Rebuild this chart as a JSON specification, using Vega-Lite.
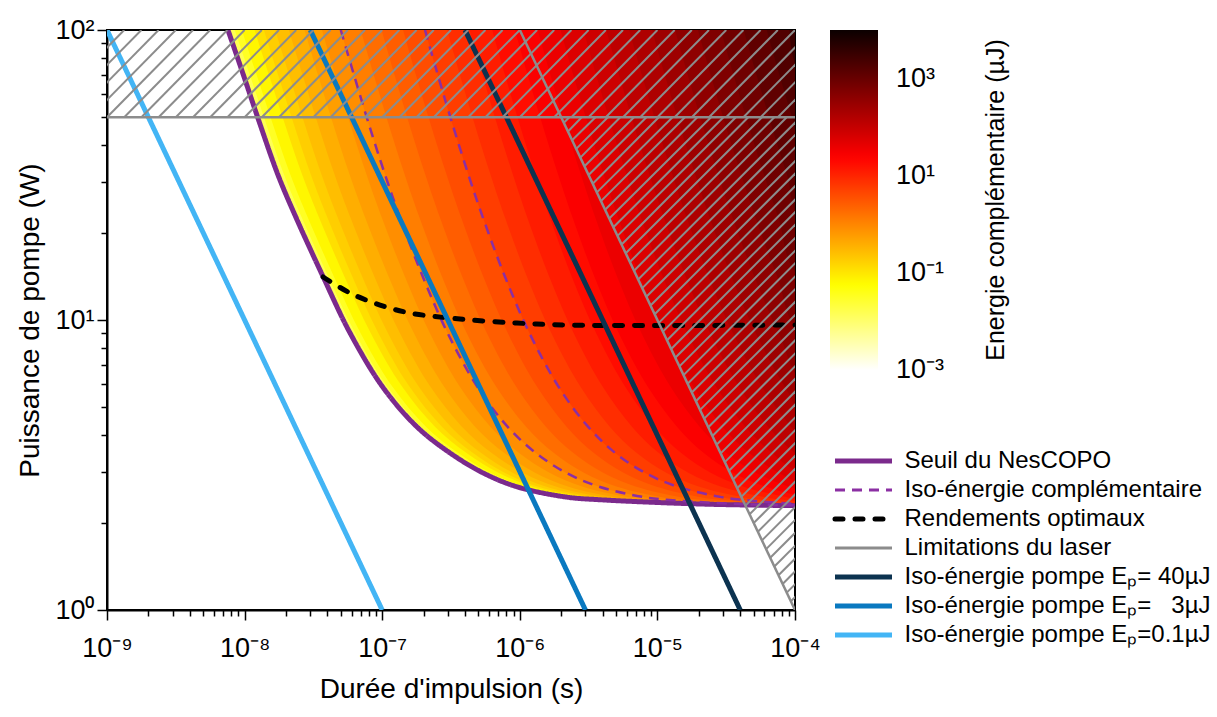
{
"$schema":"https://vega.github.io/schema/vega-lite/v6.json",
"width":688,"height":580,
"autosize":{"type":"none"},
"padding":{"left":107,"top":30,"right":422,"bottom":107},
"background":"white",
"config":{
 "font":"Liberation Sans",
 "view":{"stroke":"black","strokeWidth":2},
 "axis":{"grid":false,"domainColor":"black","domainWidth":2,"tickColor":"black","tickWidth":1.5,"labelColor":"black","titleColor":"black","labelFont":"Liberation Sans","titleFont":"Liberation Sans","titleFontWeight":"normal"},
 "legend":{"labelFont":"Liberation Sans","titleFont":"Liberation Sans","labelColor":"black","titleColor":"black","padding":0}
},
"datasets":{
"heat":[
{"lev":0,"E":0.015,"i":0,"t":7.57e-9,"P":100},{"lev":0,"E":0.015,"i":1,"t":9.8e-9,"P":70},{"lev":0,"E":0.015,"i":2,"t":1.27e-8,"P":48.6},{"lev":0,"E":0.015,"i":3,"t":1.75e-8,"P":31.6},{"lev":0,"E":0.015,"i":4,"t":2.36e-8,"P":22.6},{"lev":0,"E":0.015,"i":5,"t":3.72e-8,"P":14.1},{"lev":0,"E":0.015,"i":6,"t":5.84e-8,"P":9.02},{"lev":0,"E":0.015,"i":7,"t":1.01e-7,"P":5.87},{"lev":0,"E":0.015,"i":8,"t":1.79e-7,"P":4.28},{"lev":0,"E":0.015,"i":9,"t":3.11e-7,"P":3.48},{"lev":0,"E":0.015,"i":10,"t":5.41e-7,"P":2.97},{"lev":0,"E":0.015,"i":11,"t":9.55e-7,"P":2.66},{"lev":0,"E":0.015,"i":12,"t":2.2e-6,"P":2.45},{"lev":0,"E":0.015,"i":13,"t":3.83e-6,"P":2.4},{"lev":0,"E":0.015,"i":14,"t":2.04e-5,"P":2.32},{"lev":0,"E":0.015,"i":15,"t":1e-4,"P":2.29},{"lev":0,"E":0.015,"i":16,"t":1e-3,"P":2.29},{"lev":0,"E":0.015,"i":17,"t":1e-3,"P":100},
{"lev":1,"E":0.0316,"i":0,"t":8.48e-9,"P":100},{"lev":1,"E":0.0316,"i":1,"t":1.093e-8,"P":70},{"lev":1,"E":0.0316,"i":2,"t":1.412e-8,"P":48.6},{"lev":1,"E":0.0316,"i":3,"t":1.938e-8,"P":31.6},{"lev":1,"E":0.0316,"i":4,"t":2.598e-8,"P":22.6},{"lev":1,"E":0.0316,"i":5,"t":4.064e-8,"P":14.1},{"lev":1,"E":0.0316,"i":6,"t":6.357e-8,"P":9.02},{"lev":1,"E":0.0316,"i":7,"t":1.094e-7,"P":5.87},{"lev":1,"E":0.0316,"i":8,"t":1.927e-7,"P":4.28},{"lev":1,"E":0.0316,"i":9,"t":3.324e-7,"P":3.48},{"lev":1,"E":0.0316,"i":10,"t":5.762e-7,"P":2.97},{"lev":1,"E":0.0316,"i":11,"t":1.016e-6,"P":2.66},{"lev":1,"E":0.0316,"i":12,"t":2.325e-6,"P":2.45},{"lev":1,"E":0.0316,"i":13,"t":4.0e-6,"P":2.4},{"lev":1,"E":0.0316,"i":14,"t":2.079e-5,"P":2.32},{"lev":1,"E":0.0316,"i":15,"t":1.008e-4,"P":2.29},{"lev":1,"E":0.0316,"i":16,"t":1e-3,"P":2.29},{"lev":1,"E":0.0316,"i":17,"t":1e-3,"P":100},
{"lev":2,"E":0.0681,"i":0,"t":9.54e-9,"P":100},{"lev":2,"E":0.0681,"i":1,"t":1.224e-8,"P":70},{"lev":2,"E":0.0681,"i":2,"t":1.576e-8,"P":48.6},{"lev":2,"E":0.0681,"i":3,"t":2.156e-8,"P":31.6},{"lev":2,"E":0.0681,"i":4,"t":2.875e-8,"P":22.6},{"lev":2,"E":0.0681,"i":5,"t":4.463e-8,"P":14.1},{"lev":2,"E":0.0681,"i":6,"t":6.955e-8,"P":9.02},{"lev":2,"E":0.0681,"i":7,"t":1.192e-7,"P":5.87},{"lev":2,"E":0.0681,"i":8,"t":2.086e-7,"P":4.28},{"lev":2,"E":0.0681,"i":9,"t":3.572e-7,"P":3.48},{"lev":2,"E":0.0681,"i":10,"t":6.17e-7,"P":2.97},{"lev":2,"E":0.0681,"i":11,"t":1.086e-6,"P":2.66},{"lev":2,"E":0.0681,"i":12,"t":2.47e-6,"P":2.45},{"lev":2,"E":0.0681,"i":13,"t":4.195e-6,"P":2.4},{"lev":2,"E":0.0681,"i":14,"t":2.124e-5,"P":2.32},{"lev":2,"E":0.0681,"i":15,"t":1.017e-4,"P":2.29},{"lev":2,"E":0.0681,"i":16,"t":1e-3,"P":2.29},{"lev":2,"E":0.0681,"i":17,"t":1e-3,"P":100},
{"lev":3,"E":0.121,"i":0,"t":1.181e-8,"P":100},{"lev":3,"E":0.121,"i":1,"t":1.505e-8,"P":70},{"lev":3,"E":0.121,"i":2,"t":1.929e-8,"P":48.6},{"lev":3,"E":0.121,"i":3,"t":2.626e-8,"P":31.6},{"lev":3,"E":0.121,"i":4,"t":3.469e-8,"P":22.6},{"lev":3,"E":0.121,"i":5,"t":5.321e-8,"P":14.1},{"lev":3,"E":0.121,"i":6,"t":8.243e-8,"P":9.02},{"lev":3,"E":0.121,"i":7,"t":1.402e-7,"P":5.87},{"lev":3,"E":0.121,"i":8,"t":2.428e-7,"P":4.28},{"lev":3,"E":0.121,"i":9,"t":4.105e-7,"P":3.48},{"lev":3,"E":0.121,"i":10,"t":7.048e-7,"P":2.97},{"lev":3,"E":0.121,"i":11,"t":1.237e-6,"P":2.66},{"lev":3,"E":0.121,"i":12,"t":2.782e-6,"P":2.45},{"lev":3,"E":0.121,"i":13,"t":4.616e-6,"P":2.4},{"lev":3,"E":0.121,"i":14,"t":2.222e-5,"P":2.32},{"lev":3,"E":0.121,"i":15,"t":1.036e-4,"P":2.29},{"lev":3,"E":0.121,"i":16,"t":1e-3,"P":2.29},{"lev":3,"E":0.121,"i":17,"t":1e-3,"P":100},
{"lev":4,"E":0.178,"i":0,"t":1.381e-8,"P":100},{"lev":4,"E":0.178,"i":1,"t":1.752e-8,"P":70},{"lev":4,"E":0.178,"i":2,"t":2.239e-8,"P":48.6},{"lev":4,"E":0.178,"i":3,"t":3.037e-8,"P":31.6},{"lev":4,"E":0.178,"i":4,"t":3.99e-8,"P":22.6},{"lev":4,"E":0.178,"i":5,"t":6.073e-8,"P":14.1},{"lev":4,"E":0.178,"i":6,"t":9.372e-8,"P":9.02},{"lev":4,"E":0.178,"i":7,"t":1.586e-7,"P":5.87},{"lev":4,"E":0.178,"i":8,"t":2.728e-7,"P":4.28},{"lev":4,"E":0.178,"i":9,"t":4.573e-7,"P":3.48},{"lev":4,"E":0.178,"i":10,"t":7.818e-7,"P":2.97},{"lev":4,"E":0.178,"i":11,"t":1.37e-6,"P":2.66},{"lev":4,"E":0.178,"i":12,"t":3.056e-6,"P":2.45},{"lev":4,"E":0.178,"i":13,"t":4.985e-6,"P":2.4},{"lev":4,"E":0.178,"i":14,"t":2.307e-5,"P":2.32},{"lev":4,"E":0.178,"i":15,"t":1.053e-4,"P":2.29},{"lev":4,"E":0.178,"i":16,"t":1e-3,"P":2.29},{"lev":4,"E":0.178,"i":17,"t":1e-3,"P":100},
{"lev":5,"E":0.261,"i":0,"t":1.669e-8,"P":100},{"lev":5,"E":0.261,"i":1,"t":2.109e-8,"P":70},{"lev":5,"E":0.261,"i":2,"t":2.687e-8,"P":48.6},{"lev":5,"E":0.261,"i":3,"t":3.632e-8,"P":31.6},{"lev":5,"E":0.261,"i":4,"t":4.744e-8,"P":22.6},{"lev":5,"E":0.261,"i":5,"t":7.162e-8,"P":14.1},{"lev":5,"E":0.261,"i":6,"t":1.1e-7,"P":9.02},{"lev":5,"E":0.261,"i":7,"t":1.852e-7,"P":5.87},{"lev":5,"E":0.261,"i":8,"t":3.161e-7,"P":4.28},{"lev":5,"E":0.261,"i":9,"t":5.249e-7,"P":3.48},{"lev":5,"E":0.261,"i":10,"t":8.932e-7,"P":2.97},{"lev":5,"E":0.261,"i":11,"t":1.562e-6,"P":2.66},{"lev":5,"E":0.261,"i":12,"t":3.451e-6,"P":2.45},{"lev":5,"E":0.261,"i":13,"t":5.52e-6,"P":2.4},{"lev":5,"E":0.261,"i":14,"t":2.431e-5,"P":2.32},{"lev":5,"E":0.261,"i":15,"t":1.078e-4,"P":2.29},{"lev":5,"E":0.261,"i":16,"t":1e-3,"P":2.29},{"lev":5,"E":0.261,"i":17,"t":1e-3,"P":100},
{"lev":6,"E":0.383,"i":0,"t":2.099e-8,"P":100},{"lev":6,"E":0.383,"i":1,"t":2.641e-8,"P":70},{"lev":6,"E":0.383,"i":2,"t":3.355e-8,"P":48.6},{"lev":6,"E":0.383,"i":3,"t":4.518e-8,"P":31.6},{"lev":6,"E":0.383,"i":4,"t":5.867e-8,"P":22.6},{"lev":6,"E":0.383,"i":5,"t":8.782e-8,"P":14.1},{"lev":6,"E":0.383,"i":6,"t":1.344e-7,"P":9.02},{"lev":6,"E":0.383,"i":7,"t":2.249e-7,"P":5.87},{"lev":6,"E":0.383,"i":8,"t":3.807e-7,"P":4.28},{"lev":6,"E":0.383,"i":9,"t":6.256e-7,"P":3.48},{"lev":6,"E":0.383,"i":10,"t":1.059e-6,"P":2.97},{"lev":6,"E":0.383,"i":11,"t":1.848e-6,"P":2.66},{"lev":6,"E":0.383,"i":12,"t":4.04e-6,"P":2.45},{"lev":6,"E":0.383,"i":13,"t":6.315e-6,"P":2.4},{"lev":6,"E":0.383,"i":14,"t":2.615e-5,"P":2.32},{"lev":6,"E":0.383,"i":15,"t":1.115e-4,"P":2.29},{"lev":6,"E":0.383,"i":16,"t":1e-3,"P":2.29},{"lev":6,"E":0.383,"i":17,"t":1e-3,"P":100},
{"lev":7,"E":0.562,"i":0,"t":2.726e-8,"P":100},{"lev":7,"E":0.562,"i":1,"t":3.417e-8,"P":70},{"lev":7,"E":0.562,"i":2,"t":4.329e-8,"P":48.6},{"lev":7,"E":0.562,"i":3,"t":5.812e-8,"P":31.6},{"lev":7,"E":0.562,"i":4,"t":7.506e-8,"P":22.6},{"lev":7,"E":0.562,"i":5,"t":1.115e-7,"P":14.1},{"lev":7,"E":0.562,"i":6,"t":1.699e-7,"P":9.02},{"lev":7,"E":0.562,"i":7,"t":2.828e-7,"P":5.87},{"lev":7,"E":0.562,"i":8,"t":4.749e-7,"P":4.28},{"lev":7,"E":0.562,"i":9,"t":7.727e-7,"P":3.48},{"lev":7,"E":0.562,"i":10,"t":1.301e-6,"P":2.97},{"lev":7,"E":0.562,"i":11,"t":2.265e-6,"P":2.66},{"lev":7,"E":0.562,"i":12,"t":4.9e-6,"P":2.45},{"lev":7,"E":0.562,"i":13,"t":7.477e-6,"P":2.4},{"lev":7,"E":0.562,"i":14,"t":2.883e-5,"P":2.32},{"lev":7,"E":0.562,"i":15,"t":1.168e-4,"P":2.29},{"lev":7,"E":0.562,"i":16,"t":1e-3,"P":2.29},{"lev":7,"E":0.562,"i":17,"t":1e-3,"P":100},
{"lev":8,"E":0.825,"i":0,"t":3.648e-8,"P":100},{"lev":8,"E":0.825,"i":1,"t":4.559e-8,"P":70},{"lev":8,"E":0.825,"i":2,"t":5.762e-8,"P":48.6},{"lev":8,"E":0.825,"i":3,"t":7.715e-8,"P":31.6},{"lev":8,"E":0.825,"i":4,"t":9.916e-8,"P":22.6},{"lev":8,"E":0.825,"i":5,"t":1.463e-7,"P":14.1},{"lev":8,"E":0.825,"i":6,"t":2.221e-7,"P":9.02},{"lev":8,"E":0.825,"i":7,"t":3.679e-7,"P":5.87},{"lev":8,"E":0.825,"i":8,"t":6.135e-7,"P":4.28},{"lev":8,"E":0.825,"i":9,"t":9.889e-7,"P":3.48},{"lev":8,"E":0.825,"i":10,"t":1.657e-6,"P":2.97},{"lev":8,"E":0.825,"i":11,"t":2.879e-6,"P":2.66},{"lev":8,"E":0.825,"i":12,"t":6.165e-6,"P":2.45},{"lev":8,"E":0.825,"i":13,"t":9.185e-6,"P":2.4},{"lev":8,"E":0.825,"i":14,"t":3.278e-5,"P":2.32},{"lev":8,"E":0.825,"i":15,"t":1.247e-4,"P":2.29},{"lev":8,"E":0.825,"i":16,"t":1e-3,"P":2.29},{"lev":8,"E":0.825,"i":17,"t":1e-3,"P":100},
{"lev":9,"E":1.21,"i":0,"t":5.0e-8,"P":100},{"lev":9,"E":1.21,"i":1,"t":6.233e-8,"P":70},{"lev":9,"E":1.21,"i":2,"t":7.863e-8,"P":48.6},{"lev":9,"E":1.21,"i":3,"t":1.051e-7,"P":31.6},{"lev":9,"E":1.21,"i":4,"t":1.345e-7,"P":22.6},{"lev":9,"E":1.21,"i":5,"t":1.973e-7,"P":14.1},{"lev":9,"E":1.21,"i":6,"t":2.987e-7,"P":9.02},{"lev":9,"E":1.21,"i":7,"t":4.928e-7,"P":5.87},{"lev":9,"E":1.21,"i":8,"t":8.168e-7,"P":4.28},{"lev":9,"E":1.21,"i":9,"t":1.306e-6,"P":3.48},{"lev":9,"E":1.21,"i":10,"t":2.179e-6,"P":2.97},{"lev":9,"E":1.21,"i":11,"t":3.779e-6,"P":2.66},{"lev":9,"E":1.21,"i":12,"t":8.02e-6,"P":2.45},{"lev":9,"E":1.21,"i":13,"t":1.169e-5,"P":2.4},{"lev":9,"E":1.21,"i":14,"t":3.857e-5,"P":2.32},{"lev":9,"E":1.21,"i":15,"t":1.363e-4,"P":2.29},{"lev":9,"E":1.21,"i":16,"t":1e-3,"P":2.29},{"lev":9,"E":1.21,"i":17,"t":1e-3,"P":100},
{"lev":10,"E":1.78,"i":0,"t":6.986e-8,"P":100},{"lev":10,"E":1.78,"i":1,"t":8.691e-8,"P":70},{"lev":10,"E":1.78,"i":2,"t":1.095e-7,"P":48.6},{"lev":10,"E":1.78,"i":3,"t":1.46e-7,"P":31.6},{"lev":10,"E":1.78,"i":4,"t":1.864e-7,"P":22.6},{"lev":10,"E":1.78,"i":5,"t":2.722e-7,"P":14.1},{"lev":10,"E":1.78,"i":6,"t":4.112e-7,"P":9.02},{"lev":10,"E":1.78,"i":7,"t":6.762e-7,"P":5.87},{"lev":10,"E":1.78,"i":8,"t":1.115e-6,"P":4.28},{"lev":10,"E":1.78,"i":9,"t":1.772e-6,"P":3.48},{"lev":10,"E":1.78,"i":10,"t":2.946e-6,"P":2.97},{"lev":10,"E":1.78,"i":11,"t":5.101e-6,"P":2.66},{"lev":10,"E":1.78,"i":12,"t":1.074e-5,"P":2.45},{"lev":10,"E":1.78,"i":13,"t":1.537e-5,"P":2.4},{"lev":10,"E":1.78,"i":14,"t":4.707e-5,"P":2.32},{"lev":10,"E":1.78,"i":15,"t":1.533e-4,"P":2.29},{"lev":10,"E":1.78,"i":16,"t":1e-3,"P":2.29},{"lev":10,"E":1.78,"i":17,"t":1e-3,"P":100},
{"lev":11,"E":2.61,"i":0,"t":9.9e-8,"P":100},{"lev":11,"E":2.61,"i":1,"t":1.23e-7,"P":70},{"lev":11,"E":2.61,"i":2,"t":1.547e-7,"P":48.6},{"lev":11,"E":2.61,"i":3,"t":2.061e-7,"P":31.6},{"lev":11,"E":2.61,"i":4,"t":2.625e-7,"P":22.6},{"lev":11,"E":2.61,"i":5,"t":3.821e-7,"P":14.1},{"lev":11,"E":2.61,"i":6,"t":5.76e-7,"P":9.02},{"lev":11,"E":2.61,"i":7,"t":9.45e-7,"P":5.87},{"lev":11,"E":2.61,"i":8,"t":1.553e-6,"P":4.28},{"lev":11,"E":2.61,"i":9,"t":2.454e-6,"P":3.48},{"lev":11,"E":2.61,"i":10,"t":4.069e-6,"P":2.97},{"lev":11,"E":2.61,"i":11,"t":7.038e-6,"P":2.66},{"lev":11,"E":2.61,"i":12,"t":1.474e-5,"P":2.45},{"lev":11,"E":2.61,"i":13,"t":2.076e-5,"P":2.4},{"lev":11,"E":2.61,"i":14,"t":5.954e-5,"P":2.32},{"lev":11,"E":2.61,"i":15,"t":1.782e-4,"P":2.29},{"lev":11,"E":2.61,"i":16,"t":1e-3,"P":2.29},{"lev":11,"E":2.61,"i":17,"t":1e-3,"P":100},
{"lev":12,"E":3.83,"i":0,"t":1.418e-7,"P":100},{"lev":12,"E":3.83,"i":1,"t":1.759e-7,"P":70},{"lev":12,"E":3.83,"i":2,"t":2.212e-7,"P":48.6},{"lev":12,"E":3.83,"i":3,"t":2.943e-7,"P":31.6},{"lev":12,"E":3.83,"i":4,"t":3.743e-7,"P":22.6},{"lev":12,"E":3.83,"i":5,"t":5.434e-7,"P":14.1},{"lev":12,"E":3.83,"i":6,"t":8.182e-7,"P":9.02},{"lev":12,"E":3.83,"i":7,"t":1.34e-6,"P":5.87},{"lev":12,"E":3.83,"i":8,"t":2.196e-6,"P":4.28},{"lev":12,"E":3.83,"i":9,"t":3.457e-6,"P":3.48},{"lev":12,"E":3.83,"i":10,"t":5.72e-6,"P":2.97},{"lev":12,"E":3.83,"i":11,"t":9.885e-6,"P":2.66},{"lev":12,"E":3.83,"i":12,"t":2.06e-5,"P":2.45},{"lev":12,"E":3.83,"i":13,"t":2.868e-5,"P":2.4},{"lev":12,"E":3.83,"i":14,"t":7.785e-5,"P":2.32},{"lev":12,"E":3.83,"i":15,"t":2.148e-4,"P":2.29},{"lev":12,"E":3.83,"i":16,"t":1e-3,"P":2.29},{"lev":12,"E":3.83,"i":17,"t":1e-3,"P":100},
{"lev":13,"E":5.62,"i":0,"t":2.046e-7,"P":100},{"lev":13,"E":5.62,"i":1,"t":2.536e-7,"P":70},{"lev":13,"E":5.62,"i":2,"t":3.187e-7,"P":48.6},{"lev":13,"E":5.62,"i":3,"t":4.239e-7,"P":31.6},{"lev":13,"E":5.62,"i":4,"t":5.384e-7,"P":22.6},{"lev":13,"E":5.62,"i":5,"t":7.804e-7,"P":14.1},{"lev":13,"E":5.62,"i":6,"t":1.174e-6,"P":9.02},{"lev":13,"E":5.62,"i":7,"t":1.92e-6,"P":5.87},{"lev":13,"E":5.62,"i":8,"t":3.14e-6,"P":4.28},{"lev":13,"E":5.62,"i":9,"t":4.93e-6,"P":3.48},{"lev":13,"E":5.62,"i":10,"t":8.145e-6,"P":2.97},{"lev":13,"E":5.62,"i":11,"t":1.407e-5,"P":2.66},{"lev":13,"E":5.62,"i":12,"t":2.922e-5,"P":2.45},{"lev":13,"E":5.62,"i":13,"t":4.032e-5,"P":2.4},{"lev":13,"E":5.62,"i":14,"t":1.048e-4,"P":2.32},{"lev":13,"E":5.62,"i":15,"t":1e-3,"P":2.32},{"lev":13,"E":5.62,"i":16,"t":1e-3,"P":100},
{"lev":14,"E":8.25,"i":0,"t":2.967e-7,"P":100},{"lev":14,"E":8.25,"i":1,"t":3.677e-7,"P":70},{"lev":14,"E":8.25,"i":2,"t":4.619e-7,"P":48.6},{"lev":14,"E":8.25,"i":3,"t":6.14e-7,"P":31.6},{"lev":14,"E":8.25,"i":4,"t":7.792e-7,"P":22.6},{"lev":14,"E":8.25,"i":5,"t":1.128e-6,"P":14.1},{"lev":14,"E":8.25,"i":6,"t":1.695e-6,"P":9.02},{"lev":14,"E":8.25,"i":7,"t":2.77e-6,"P":5.87},{"lev":14,"E":8.25,"i":8,"t":4.524e-6,"P":4.28},{"lev":14,"E":8.25,"i":9,"t":7.09e-6,"P":3.48},{"lev":14,"E":8.25,"i":10,"t":1.17e-5,"P":2.97},{"lev":14,"E":8.25,"i":11,"t":2.02e-5,"P":2.66},{"lev":14,"E":8.25,"i":12,"t":4.185e-5,"P":2.45},{"lev":14,"E":8.25,"i":13,"t":5.738e-5,"P":2.4},{"lev":14,"E":8.25,"i":14,"t":1.442e-4,"P":2.32},{"lev":14,"E":8.25,"i":15,"t":1e-3,"P":2.32},{"lev":14,"E":8.25,"i":16,"t":1e-3,"P":100},
{"lev":15,"E":12.1,"i":0,"t":4.319e-7,"P":100},{"lev":15,"E":12.1,"i":1,"t":5.351e-7,"P":70},{"lev":15,"E":12.1,"i":2,"t":6.72e-7,"P":48.6},{"lev":15,"E":12.1,"i":3,"t":8.93e-7,"P":31.6},{"lev":15,"E":12.1,"i":4,"t":1.132e-6,"P":22.6},{"lev":15,"E":12.1,"i":5,"t":1.638e-6,"P":14.1},{"lev":15,"E":12.1,"i":6,"t":2.461e-6,"P":9.02},{"lev":15,"E":12.1,"i":7,"t":4.019e-6,"P":5.87},{"lev":15,"E":12.1,"i":8,"t":6.557e-6,"P":4.28},{"lev":15,"E":12.1,"i":9,"t":1.026e-5,"P":3.48},{"lev":15,"E":12.1,"i":10,"t":1.692e-5,"P":2.97},{"lev":15,"E":12.1,"i":11,"t":2.92e-5,"P":2.66},{"lev":15,"E":12.1,"i":12,"t":6.04e-5,"P":2.45},{"lev":15,"E":12.1,"i":13,"t":8.243e-5,"P":2.4},{"lev":15,"E":12.1,"i":14,"t":2.02e-4,"P":2.32},{"lev":15,"E":12.1,"i":15,"t":1e-3,"P":2.32},{"lev":15,"E":12.1,"i":16,"t":1e-3,"P":100},
{"lev":16,"E":17.8,"i":0,"t":6.305e-7,"P":100},{"lev":16,"E":17.8,"i":1,"t":7.809e-7,"P":70},{"lev":16,"E":17.8,"i":2,"t":9.806e-7,"P":48.6},{"lev":16,"E":17.8,"i":3,"t":1.303e-6,"P":31.6},{"lev":16,"E":17.8,"i":4,"t":1.652e-6,"P":22.6},{"lev":16,"E":17.8,"i":5,"t":2.387e-6,"P":14.1},{"lev":16,"E":17.8,"i":6,"t":3.586e-6,"P":9.02},{"lev":16,"E":17.8,"i":7,"t":5.853e-6,"P":5.87},{"lev":16,"E":17.8,"i":8,"t":9.542e-6,"P":4.28},{"lev":16,"E":17.8,"i":9,"t":1.492e-5,"P":3.48},{"lev":16,"E":17.8,"i":10,"t":2.459e-5,"P":2.97},{"lev":16,"E":17.8,"i":11,"t":4.241e-5,"P":2.66},{"lev":16,"E":17.8,"i":12,"t":8.764e-5,"P":2.45},{"lev":16,"E":17.8,"i":13,"t":1.192e-4,"P":2.4},{"lev":16,"E":17.8,"i":14,"t":1e-3,"P":2.4},{"lev":16,"E":17.8,"i":15,"t":1e-3,"P":100},
{"lev":17,"E":26.1,"i":0,"t":9.22e-7,"P":100},{"lev":17,"E":26.1,"i":1,"t":1.141e-6,"P":70},{"lev":17,"E":26.1,"i":2,"t":1.433e-6,"P":48.6},{"lev":17,"E":26.1,"i":3,"t":1.904e-6,"P":31.6},{"lev":17,"E":26.1,"i":4,"t":2.414e-6,"P":22.6},{"lev":17,"E":26.1,"i":5,"t":3.486e-6,"P":14.1},{"lev":17,"E":26.1,"i":6,"t":5.234e-6,"P":9.02},{"lev":17,"E":26.1,"i":7,"t":8.541e-6,"P":5.87},{"lev":17,"E":26.1,"i":8,"t":1.392e-5,"P":4.28},{"lev":17,"E":26.1,"i":9,"t":2.174e-5,"P":3.48},{"lev":17,"E":26.1,"i":10,"t":3.582e-5,"P":2.97},{"lev":17,"E":26.1,"i":11,"t":6.179e-5,"P":2.66},{"lev":17,"E":26.1,"i":12,"t":1.276e-4,"P":2.45},{"lev":17,"E":26.1,"i":13,"t":1e-3,"P":2.45},{"lev":17,"E":26.1,"i":14,"t":1e-3,"P":100},
{"lev":18,"E":38.3,"i":0,"t":1.35e-6,"P":100},{"lev":18,"E":38.3,"i":1,"t":1.671e-6,"P":70},{"lev":18,"E":38.3,"i":2,"t":2.098e-6,"P":48.6},{"lev":18,"E":38.3,"i":3,"t":2.786e-6,"P":31.6},{"lev":18,"E":38.3,"i":4,"t":3.531e-6,"P":22.6},{"lev":18,"E":38.3,"i":5,"t":5.099e-6,"P":14.1},{"lev":18,"E":38.3,"i":6,"t":7.656e-6,"P":9.02},{"lev":18,"E":38.3,"i":7,"t":1.249e-5,"P":5.87},{"lev":18,"E":38.3,"i":8,"t":2.035e-5,"P":4.28},{"lev":18,"E":38.3,"i":9,"t":3.177e-5,"P":3.48},{"lev":18,"E":38.3,"i":10,"t":5.233e-5,"P":2.97},{"lev":18,"E":38.3,"i":11,"t":9.026e-5,"P":2.66},{"lev":18,"E":38.3,"i":12,"t":1.862e-4,"P":2.45},{"lev":18,"E":38.3,"i":13,"t":1e-3,"P":2.45},{"lev":18,"E":38.3,"i":14,"t":1e-3,"P":100},
{"lev":19,"E":56.2,"i":0,"t":1.978e-6,"P":100},{"lev":19,"E":56.2,"i":1,"t":2.448e-6,"P":70},{"lev":19,"E":56.2,"i":2,"t":3.073e-6,"P":48.6},{"lev":19,"E":56.2,"i":3,"t":4.082e-6,"P":31.6},{"lev":19,"E":56.2,"i":4,"t":5.173e-6,"P":22.6},{"lev":19,"E":56.2,"i":5,"t":7.469e-6,"P":14.1},{"lev":19,"E":56.2,"i":6,"t":1.121e-5,"P":9.02},{"lev":19,"E":56.2,"i":7,"t":1.829e-5,"P":5.87},{"lev":19,"E":56.2,"i":8,"t":2.979e-5,"P":4.28},{"lev":19,"E":56.2,"i":9,"t":4.65e-5,"P":3.48},{"lev":19,"E":56.2,"i":10,"t":7.658e-5,"P":2.97},{"lev":19,"E":56.2,"i":11,"t":1.32e-4,"P":2.66},{"lev":19,"E":56.2,"i":12,"t":1e-3,"P":2.66},{"lev":19,"E":56.2,"i":13,"t":1e-3,"P":100},
{"lev":20,"E":82.5,"i":0,"t":2.899e-6,"P":100},{"lev":20,"E":82.5,"i":1,"t":3.589e-6,"P":70},{"lev":20,"E":82.5,"i":2,"t":4.505e-6,"P":48.6},{"lev":20,"E":82.5,"i":3,"t":5.983e-6,"P":31.6},{"lev":20,"E":82.5,"i":4,"t":7.58e-6,"P":22.6},{"lev":20,"E":82.5,"i":5,"t":1.095e-5,"P":14.1},{"lev":20,"E":82.5,"i":6,"t":1.643e-5,"P":9.02},{"lev":20,"E":82.5,"i":7,"t":2.679e-5,"P":5.87},{"lev":20,"E":82.5,"i":8,"t":4.363e-5,"P":4.28},{"lev":20,"E":82.5,"i":9,"t":6.81e-5,"P":3.48},{"lev":20,"E":82.5,"i":10,"t":1.121e-4,"P":2.97},{"lev":20,"E":82.5,"i":11,"t":1e-3,"P":2.97},{"lev":20,"E":82.5,"i":12,"t":1e-3,"P":100},
{"lev":21,"E":121,"i":0,"t":4.251e-6,"P":100},{"lev":21,"E":121,"i":1,"t":5.263e-6,"P":70},{"lev":21,"E":121,"i":2,"t":6.606e-6,"P":48.6},{"lev":21,"E":121,"i":3,"t":8.773e-6,"P":31.6},{"lev":21,"E":121,"i":4,"t":1.112e-5,"P":22.6},{"lev":21,"E":121,"i":5,"t":1.605e-5,"P":14.1},{"lev":21,"E":121,"i":6,"t":2.409e-5,"P":9.02},{"lev":21,"E":121,"i":7,"t":3.928e-5,"P":5.87},{"lev":21,"E":121,"i":8,"t":6.396e-5,"P":4.28},{"lev":21,"E":121,"i":9,"t":9.981e-5,"P":3.48},{"lev":21,"E":121,"i":10,"t":1.643e-4,"P":2.97},{"lev":21,"E":121,"i":11,"t":1e-3,"P":2.97},{"lev":21,"E":121,"i":12,"t":1e-3,"P":100},
{"lev":22,"E":178,"i":0,"t":6.237e-6,"P":100},{"lev":22,"E":178,"i":1,"t":7.721e-6,"P":70},{"lev":22,"E":178,"i":2,"t":9.692e-6,"P":48.6},{"lev":22,"E":178,"i":3,"t":1.287e-5,"P":31.6},{"lev":22,"E":178,"i":4,"t":1.63e-5,"P":22.6},{"lev":22,"E":178,"i":5,"t":2.354e-5,"P":14.1},{"lev":22,"E":178,"i":6,"t":3.534e-5,"P":9.02},{"lev":22,"E":178,"i":7,"t":5.762e-5,"P":5.87},{"lev":22,"E":178,"i":8,"t":9.381e-5,"P":4.28},{"lev":22,"E":178,"i":9,"t":1.464e-4,"P":3.48},{"lev":22,"E":178,"i":10,"t":1e-3,"P":3.48},{"lev":22,"E":178,"i":11,"t":1e-3,"P":100},
{"lev":23,"E":261,"i":0,"t":9.148e-6,"P":100},{"lev":23,"E":261,"i":1,"t":1.132e-5,"P":70},{"lev":23,"E":261,"i":2,"t":1.421e-5,"P":48.6},{"lev":23,"E":261,"i":3,"t":1.888e-5,"P":31.6},{"lev":23,"E":261,"i":4,"t":2.392e-5,"P":22.6},{"lev":23,"E":261,"i":5,"t":3.453e-5,"P":14.1},{"lev":23,"E":261,"i":6,"t":5.182e-5,"P":9.02},{"lev":23,"E":261,"i":7,"t":8.45e-5,"P":5.87},{"lev":23,"E":261,"i":8,"t":1.376e-4,"P":4.28},{"lev":23,"E":261,"i":9,"t":1e-3,"P":4.28},{"lev":23,"E":261,"i":10,"t":1e-3,"P":100},
{"lev":24,"E":383,"i":0,"t":1.343e-5,"P":100},{"lev":24,"E":383,"i":1,"t":1.662e-5,"P":70},{"lev":24,"E":383,"i":2,"t":2.086e-5,"P":48.6},{"lev":24,"E":383,"i":3,"t":2.77e-5,"P":31.6},{"lev":24,"E":383,"i":4,"t":3.509e-5,"P":22.6},{"lev":24,"E":383,"i":5,"t":5.066e-5,"P":14.1},{"lev":24,"E":383,"i":6,"t":7.604e-5,"P":9.02},{"lev":24,"E":383,"i":7,"t":1.24e-4,"P":5.87},{"lev":24,"E":383,"i":8,"t":1e-3,"P":5.87},{"lev":24,"E":383,"i":9,"t":1e-3,"P":100},
{"lev":25,"E":562,"i":0,"t":1.971e-5,"P":100},{"lev":25,"E":562,"i":1,"t":2.439e-5,"P":70},{"lev":25,"E":562,"i":2,"t":3.061e-5,"P":48.6},{"lev":25,"E":562,"i":3,"t":4.066e-5,"P":31.6},{"lev":25,"E":562,"i":4,"t":5.151e-5,"P":22.6},{"lev":25,"E":562,"i":5,"t":7.436e-5,"P":14.1},{"lev":25,"E":562,"i":6,"t":1.116e-4,"P":9.02},{"lev":25,"E":562,"i":7,"t":1e-3,"P":9.02},{"lev":25,"E":562,"i":8,"t":1e-3,"P":100},
{"lev":26,"E":825,"i":0,"t":2.892e-5,"P":100},{"lev":26,"E":825,"i":1,"t":3.58e-5,"P":70},{"lev":26,"E":825,"i":2,"t":4.493e-5,"P":48.6},{"lev":26,"E":825,"i":3,"t":5.967e-5,"P":31.6},{"lev":26,"E":825,"i":4,"t":7.558e-5,"P":22.6},{"lev":26,"E":825,"i":5,"t":1.091e-4,"P":14.1},{"lev":26,"E":825,"i":6,"t":1e-3,"P":14.1},{"lev":26,"E":825,"i":7,"t":1e-3,"P":100},
{"lev":27,"E":1210,"i":0,"t":4.244e-5,"P":100},{"lev":27,"E":1210,"i":1,"t":5.254e-5,"P":70},{"lev":27,"E":1210,"i":2,"t":6.594e-5,"P":48.6},{"lev":27,"E":1210,"i":3,"t":8.757e-5,"P":31.6},{"lev":27,"E":1210,"i":4,"t":1.109e-4,"P":22.6},{"lev":27,"E":1210,"i":5,"t":1e-3,"P":22.6},{"lev":27,"E":1210,"i":6,"t":1e-3,"P":100},
{"lev":28,"E":1780,"i":0,"t":6.23e-5,"P":100},{"lev":28,"E":1780,"i":1,"t":7.712e-5,"P":70},{"lev":28,"E":1780,"i":2,"t":9.68e-5,"P":48.6},{"lev":28,"E":1780,"i":3,"t":1.285e-4,"P":31.6},{"lev":28,"E":1780,"i":4,"t":1e-3,"P":31.6},{"lev":28,"E":1780,"i":5,"t":1e-3,"P":100},
{"lev":29,"E":3162,"i":0,"t":9.14e-5,"P":100},{"lev":29,"E":3162,"i":1,"t":1.1315e-4,"P":70},{"lev":29,"E":3162,"i":2,"t":1e-3,"P":70},{"lev":29,"E":3162,"i":3,"t":1e-3,"P":100}
],
"lines":[
{"series":"Seuil du NesCOPO","curve":"seuil","t":7.57e-9,"P":100},{"series":"Seuil du NesCOPO","curve":"seuil","t":9.8e-9,"P":70},{"series":"Seuil du NesCOPO","curve":"seuil","t":1.27e-8,"P":48.6},{"series":"Seuil du NesCOPO","curve":"seuil","t":1.75e-8,"P":31.6},{"series":"Seuil du NesCOPO","curve":"seuil","t":2.36e-8,"P":22.6},{"series":"Seuil du NesCOPO","curve":"seuil","t":3.72e-8,"P":14.1},{"series":"Seuil du NesCOPO","curve":"seuil","t":5.84e-8,"P":9.02},{"series":"Seuil du NesCOPO","curve":"seuil","t":1.01e-7,"P":5.87},{"series":"Seuil du NesCOPO","curve":"seuil","t":1.79e-7,"P":4.28},{"series":"Seuil du NesCOPO","curve":"seuil","t":3.11e-7,"P":3.48},{"series":"Seuil du NesCOPO","curve":"seuil","t":5.41e-7,"P":2.97},{"series":"Seuil du NesCOPO","curve":"seuil","t":9.55e-7,"P":2.66},{"series":"Seuil du NesCOPO","curve":"seuil","t":2.2e-6,"P":2.45},{"series":"Seuil du NesCOPO","curve":"seuil","t":3.83e-6,"P":2.4},{"series":"Seuil du NesCOPO","curve":"seuil","t":2.04e-5,"P":2.32},{"series":"Seuil du NesCOPO","curve":"seuil","t":1e-4,"P":2.29},
{"series":"Iso-énergie complémentaire","curve":"iso1","t":5.0e-8,"P":100},{"series":"Iso-énergie complémentaire","curve":"iso1","t":6.233e-8,"P":70},{"series":"Iso-énergie complémentaire","curve":"iso1","t":7.863e-8,"P":48.6},{"series":"Iso-énergie complémentaire","curve":"iso1","t":1.051e-7,"P":31.6},{"series":"Iso-énergie complémentaire","curve":"iso1","t":1.345e-7,"P":22.6},{"series":"Iso-énergie complémentaire","curve":"iso1","t":1.973e-7,"P":14.1},{"series":"Iso-énergie complémentaire","curve":"iso1","t":2.987e-7,"P":9.02},{"series":"Iso-énergie complémentaire","curve":"iso1","t":4.928e-7,"P":5.87},{"series":"Iso-énergie complémentaire","curve":"iso1","t":8.168e-7,"P":4.28},{"series":"Iso-énergie complémentaire","curve":"iso1","t":1.306e-6,"P":3.48},{"series":"Iso-énergie complémentaire","curve":"iso1","t":2.179e-6,"P":2.97},{"series":"Iso-énergie complémentaire","curve":"iso1","t":3.779e-6,"P":2.66},{"series":"Iso-énergie complémentaire","curve":"iso1","t":8.02e-6,"P":2.45},{"series":"Iso-énergie complémentaire","curve":"iso1","t":1.169e-5,"P":2.4},{"series":"Iso-énergie complémentaire","curve":"iso1","t":3.857e-5,"P":2.32},{"series":"Iso-énergie complémentaire","curve":"iso1","t":1.363e-4,"P":2.29},
{"series":"Iso-énergie complémentaire","curve":"iso2","t":2.046e-7,"P":100},{"series":"Iso-énergie complémentaire","curve":"iso2","t":2.536e-7,"P":70},{"series":"Iso-énergie complémentaire","curve":"iso2","t":3.187e-7,"P":48.6},{"series":"Iso-énergie complémentaire","curve":"iso2","t":4.239e-7,"P":31.6},{"series":"Iso-énergie complémentaire","curve":"iso2","t":5.384e-7,"P":22.6},{"series":"Iso-énergie complémentaire","curve":"iso2","t":7.804e-7,"P":14.1},{"series":"Iso-énergie complémentaire","curve":"iso2","t":1.174e-6,"P":9.02},{"series":"Iso-énergie complémentaire","curve":"iso2","t":1.92e-6,"P":5.87},{"series":"Iso-énergie complémentaire","curve":"iso2","t":3.14e-6,"P":4.28},{"series":"Iso-énergie complémentaire","curve":"iso2","t":4.93e-6,"P":3.48},{"series":"Iso-énergie complémentaire","curve":"iso2","t":8.145e-6,"P":2.97},{"series":"Iso-énergie complémentaire","curve":"iso2","t":1.407e-5,"P":2.66},{"series":"Iso-énergie complémentaire","curve":"iso2","t":2.922e-5,"P":2.45},{"series":"Iso-énergie complémentaire","curve":"iso2","t":4.032e-5,"P":2.4},{"series":"Iso-énergie complémentaire","curve":"iso2","t":1.048e-4,"P":2.32},
{"series":"Rendements optimaux","curve":"opt","t":3.72e-8,"P":14.07},{"series":"Rendements optimaux","curve":"opt","t":5.84e-8,"P":12.39},{"series":"Rendements optimaux","curve":"opt","t":9.64e-8,"P":11.26},{"series":"Rendements optimaux","curve":"opt","t":1.59e-7,"P":10.57},{"series":"Rendements optimaux","curve":"opt","t":3.68e-7,"P":10.08},{"series":"Rendements optimaux","curve":"opt","t":9.55e-7,"P":9.76},{"series":"Rendements optimaux","curve":"opt","t":2.2e-6,"P":9.61},{"series":"Rendements optimaux","curve":"opt","t":8.84e-6,"P":9.57},{"series":"Rendements optimaux","curve":"opt","t":1e-4,"P":9.61},
{"series":"Limitations du laser","curve":"lim1","t":1e-9,"P":50},{"series":"Limitations du laser","curve":"lim1","t":1e-4,"P":50},
{"series":"Limitations du laser","curve":"lim2","t":1e-6,"P":100},{"series":"Limitations du laser","curve":"lim2","t":1e-4,"P":1},
{"series":"Iso-énergie pompe Eₚ= 40µJ","curve":"p40","t":4e-7,"P":100},{"series":"Iso-énergie pompe Eₚ= 40µJ","curve":"p40","t":4e-5,"P":1},
{"series":"Iso-énergie pompe Eₚ= \u20073µJ","curve":"p3","t":3e-8,"P":100},{"series":"Iso-énergie pompe Eₚ= \u20073µJ","curve":"p3","t":3e-6,"P":1},
{"series":"Iso-énergie pompe Eₚ=0.1µJ","curve":"p01","t":1e-9,"P":100},{"series":"Iso-énergie pompe Eₚ=0.1µJ","curve":"p01","t":1e-7,"P":1}
],
"hatch":[
{"t1":2.371e-10,"p1":50,"t2":1e-9,"p2":100},{"t1":3.162e-10,"p1":50,"t2":1.334e-9,"p2":100},{"t1":4.217e-10,"p1":50,"t2":1.778e-9,"p2":100},{"t1":5.623e-10,"p1":50,"t2":2.371e-9,"p2":100},{"t1":7.499e-10,"p1":50,"t2":3.162e-9,"p2":100},
{"t1":1e-9,"p1":50,"t2":4.217e-9,"p2":100},{"t1":1.334e-9,"p1":50,"t2":5.623e-9,"p2":100},{"t1":1.778e-9,"p1":50,"t2":7.499e-9,"p2":100},{"t1":2.371e-9,"p1":50,"t2":1e-8,"p2":100},{"t1":3.162e-9,"p1":50,"t2":1.334e-8,"p2":100},{"t1":4.217e-9,"p1":50,"t2":1.778e-8,"p2":100},{"t1":5.623e-9,"p1":50,"t2":2.371e-8,"p2":100},{"t1":7.499e-9,"p1":50,"t2":3.162e-8,"p2":100},
{"t1":1e-8,"p1":50,"t2":4.217e-8,"p2":100},{"t1":1.334e-8,"p1":50,"t2":5.623e-8,"p2":100},{"t1":1.778e-8,"p1":50,"t2":7.499e-8,"p2":100},{"t1":2.371e-8,"p1":50,"t2":1e-7,"p2":100},{"t1":3.162e-8,"p1":50,"t2":1.334e-7,"p2":100},{"t1":4.217e-8,"p1":50,"t2":1.778e-7,"p2":100},{"t1":5.623e-8,"p1":50,"t2":2.371e-7,"p2":100},{"t1":7.499e-8,"p1":50,"t2":3.162e-7,"p2":100},
{"t1":1e-7,"p1":50,"t2":4.217e-7,"p2":100},{"t1":1.334e-7,"p1":50,"t2":5.623e-7,"p2":100},{"t1":1.778e-7,"p1":50,"t2":7.499e-7,"p2":100},{"t1":2.371e-7,"p1":50,"t2":1e-6,"p2":100},{"t1":3.162e-7,"p1":50,"t2":1.334e-6,"p2":100},{"t1":4.217e-7,"p1":50,"t2":1.778e-6,"p2":100},{"t1":5.623e-7,"p1":50,"t2":2.371e-6,"p2":100},{"t1":7.499e-7,"p1":50,"t2":3.162e-6,"p2":100},
{"t1":1e-6,"p1":50,"t2":4.217e-6,"p2":100},{"t1":1.334e-6,"p1":50,"t2":5.623e-6,"p2":100},{"t1":1.778e-6,"p1":50,"t2":7.499e-6,"p2":100},{"t1":2.371e-6,"p1":50,"t2":1e-5,"p2":100},{"t1":3.162e-6,"p1":50,"t2":1.334e-5,"p2":100},{"t1":4.217e-6,"p1":50,"t2":1.778e-5,"p2":100},{"t1":5.623e-6,"p1":50,"t2":2.371e-5,"p2":100},{"t1":7.499e-6,"p1":50,"t2":3.162e-5,"p2":100},
{"t1":1e-5,"p1":50,"t2":4.217e-5,"p2":100},{"t1":1.334e-5,"p1":50,"t2":5.623e-5,"p2":100},{"t1":1.778e-5,"p1":50,"t2":7.499e-5,"p2":100},{"t1":2.371e-5,"p1":50,"t2":1e-4,"p2":100},{"t1":3.162e-5,"p1":50,"t2":1.334e-4,"p2":100},{"t1":4.217e-5,"p1":50,"t2":1.778e-4,"p2":100},{"t1":5.623e-5,"p1":50,"t2":2.371e-4,"p2":100},{"t1":7.499e-5,"p1":50,"t2":3.162e-4,"p2":100},
{"t1":2.089e-6,"p1":47.86,"t2":2.291e-6,"p2":50},{"t1":2.239e-6,"p1":44.67,"t2":2.818e-6,"p2":50},{"t1":2.399e-6,"p1":41.69,"t2":3.548e-6,"p2":50},{"t1":2.570e-6,"p1":38.90,"t2":4.365e-6,"p2":50},{"t1":2.754e-6,"p1":36.31,"t2":5.370e-6,"p2":50},{"t1":2.951e-6,"p1":33.88,"t2":6.761e-6,"p2":50},{"t1":3.162e-6,"p1":31.62,"t2":8.318e-6,"p2":50},{"t1":3.388e-6,"p1":29.51,"t2":1.023e-5,"p2":50},{"t1":3.631e-6,"p1":27.54,"t2":1.288e-5,"p2":50},{"t1":3.890e-6,"p1":25.70,"t2":1.585e-5,"p2":50},
{"t1":4.169e-6,"p1":23.99,"t2":1.950e-5,"p2":50},{"t1":4.467e-6,"p1":22.39,"t2":2.455e-5,"p2":50},{"t1":4.786e-6,"p1":20.89,"t2":3.020e-5,"p2":50},{"t1":5.129e-6,"p1":19.50,"t2":3.715e-5,"p2":50},{"t1":5.495e-6,"p1":18.20,"t2":4.571e-5,"p2":50},{"t1":5.888e-6,"p1":16.98,"t2":5.754e-5,"p2":50},{"t1":6.310e-6,"p1":15.85,"t2":7.079e-5,"p2":50},{"t1":6.761e-6,"p1":14.79,"t2":8.710e-5,"p2":50},{"t1":7.244e-6,"p1":13.80,"t2":1.096e-4,"p2":50},{"t1":7.763e-6,"p1":12.88,"t2":1.349e-4,"p2":50},
{"t1":8.318e-6,"p1":12.02,"t2":1.660e-4,"p2":50},{"t1":8.913e-6,"p1":11.22,"t2":2.089e-4,"p2":50},{"t1":9.550e-6,"p1":10.47,"t2":2.570e-4,"p2":50},{"t1":1.0233e-5,"p1":9.772,"t2":3.162e-4,"p2":50},{"t1":1.0965e-5,"p1":9.120,"t2":3.981e-4,"p2":50},{"t1":1.1749e-5,"p1":8.511,"t2":4.898e-4,"p2":50},{"t1":1.2589e-5,"p1":7.943,"t2":6.026e-4,"p2":50},{"t1":1.3490e-5,"p1":7.413,"t2":7.586e-4,"p2":50},{"t1":1.4454e-5,"p1":6.918,"t2":9.333e-4,"p2":50},{"t1":1.5488e-5,"p1":6.457,"t2":1.148e-3,"p2":50},
{"t1":1.6596e-5,"p1":6.026,"t2":1.445e-3,"p2":50},{"t1":1.7783e-5,"p1":5.623,"t2":1.778e-3,"p2":50},{"t1":1.9055e-5,"p1":5.248,"t2":2.188e-3,"p2":50},{"t1":2.0417e-5,"p1":4.898,"t2":2.754e-3,"p2":50},{"t1":2.1878e-5,"p1":4.571,"t2":3.388e-3,"p2":50},{"t1":2.3442e-5,"p1":4.266,"t2":4.169e-3,"p2":50},{"t1":2.5119e-5,"p1":3.981,"t2":5.248e-3,"p2":50},{"t1":2.6915e-5,"p1":3.715,"t2":6.457e-3,"p2":50},{"t1":2.8840e-5,"p1":3.467,"t2":7.943e-3,"p2":50},{"t1":3.0903e-5,"p1":3.236,"t2":9.772e-3,"p2":50},
{"t1":3.3113e-5,"p1":3.020,"t2":1.230e-2,"p2":50},{"t1":3.5481e-5,"p1":2.818,"t2":1.514e-2,"p2":50},{"t1":3.8019e-5,"p1":2.630,"t2":1.862e-2,"p2":50},{"t1":4.0738e-5,"p1":2.455,"t2":2.344e-2,"p2":50},{"t1":4.3652e-5,"p1":2.291,"t2":2.884e-2,"p2":50},{"t1":4.6774e-5,"p1":2.138,"t2":3.548e-2,"p2":50},{"t1":5.0119e-5,"p1":1.995,"t2":4.467e-2,"p2":50},{"t1":5.3703e-5,"p1":1.862,"t2":5.495e-2,"p2":50},{"t1":5.7544e-5,"p1":1.738,"t2":6.761e-2,"p2":50},{"t1":6.1660e-5,"p1":1.622,"t2":8.511e-2,"p2":50},
{"t1":6.6069e-5,"p1":1.514,"t2":0.1047,"p2":50},{"t1":7.0795e-5,"p1":1.413,"t2":0.1288,"p2":50},{"t1":7.5858e-5,"p1":1.318,"t2":0.1622,"p2":50},{"t1":8.1283e-5,"p1":1.230,"t2":0.1995,"p2":50},{"t1":8.7096e-5,"p1":1.148,"t2":0.2455,"p2":50},{"t1":9.3325e-5,"p1":1.072,"t2":0.3090,"p2":50}
]
},
"resolve":{"axis":{"x":"independent","y":"independent"}},
"layer":[
{
 "data":{"name":"heat"},
 "mark":{"type":"line","clip":true,"strokeWidth":0,"strokeOpacity":0,"interpolate":"catmull-rom"},
 "encoding":{
  "x":{"field":"t","type":"quantitative","scale":{"type":"log","domain":[1e-9,1e-4],"nice":false},
   "axis":{"values":[1e-9,1e-8,1e-7,1e-6,1e-5,1e-4],"labelExpr":"datum.value < 2e-9 ? '10⁻⁹' : datum.value < 2e-8 ? '10⁻⁸' : datum.value < 2e-7 ? '10⁻⁷' : datum.value < 2e-6 ? '10⁻⁶' : datum.value < 2e-5 ? '10⁻⁵' : '10⁻⁴'","tickSize":10,"labelFontSize":27,"labelPadding":15,"labelFlush":false,"labelOverlap":false,"title":"Durée d'impulsion (s)","titleFontSize":28,"titlePadding":14}},
  "y":{"field":"P","type":"quantitative","scale":{"type":"log","domain":[1,100],"nice":false},
   "axis":{"values":[1,10,100],"labelExpr":"datum.value < 2 ? '10⁰' : datum.value < 20 ? '10¹' : '10²'","tickSize":10,"labelFontSize":27,"labelPadding":3,"labelFlush":false,"labelOverlap":false,"title":"Puissance de pompe (W)","titleFontSize":28,"titlePadding":10}},
  "detail":{"field":"lev","type":"nominal"},
  "order":{"field":"i","type":"quantitative"},
  "fill":{"field":"E","type":"quantitative","scale":{"type":"log","domain":[0.001,0.0562,23.71,10000],"range":["#ffffff","#ffff00","#ff0000","#0b0000"],"interpolate":"rgb"},
   "legend":{"orient":"none","legendX":723,"legendY":0,"direction":"vertical","gradientLength":340,"gradientThickness":48,"gradientStrokeWidth":0,"values":[0.001,0.1,10,1000],"labelExpr":"datum.value < 0.01 ? '10⁻³' : datum.value < 1 ? '10⁻¹' : datum.value < 100 ? '10¹' : '10³'","labelFontSize":27,"labelOffset":18,"labelOverlap":false,"labelBaseline":"middle","title":"Energie complémentaire (µJ)","titleOrient":"right","titleAnchor":"middle","titleFontSize":25,"titleFontWeight":"normal","titlePadding":40,"titleLimit":600,
    "encode":{"title":{"update":{"angle":{"value":-90},"baseline":{"value":"top"}}},"labels":{"update":{"baseline":{"value":"middle"}}}}}}
 }
},
{
 "data":{"name":"lines"},
 "transform":[{"filter":{"field":"series","equal":"Seuil du NesCOPO"}}],
 "mark":{"type":"line","clip":true,"strokeWidth":5,"interpolate":"catmull-rom"},
 "encoding":{
  "x":{"field":"t","type":"quantitative","axis":{"orient":"bottom","values":[2e-9,3e-9,4e-9,5e-9,6e-9,7e-9,8e-9,9e-9,2e-8,3e-8,4e-8,5e-8,6e-8,7e-8,8e-8,9e-8,2e-7,3e-7,4e-7,5e-7,6e-7,7e-7,8e-7,9e-7,2e-6,3e-6,4e-6,5e-6,6e-6,7e-6,8e-6,9e-6,2e-5,3e-5,4e-5,5e-5,6e-5,7e-5,8e-5,9e-5],"labels":false,"tickSize":6,"domain":false,"title":null}},
  "y":{"field":"P","type":"quantitative","axis":{"orient":"left","values":[2,3,4,5,6,7,8,9,20,30,40,50,60,70,80,90],"labels":false,"tickSize":6,"domain":false,"title":null}},
  "detail":{"field":"curve","type":"nominal"},
  "stroke":{"field":"series","type":"nominal","scale":{"domain":["Seuil du NesCOPO","Iso-énergie complémentaire","Rendements optimaux","Limitations du laser","Iso-énergie pompe Eₚ= 40µJ","Iso-énergie pompe Eₚ= \u20073µJ","Iso-énergie pompe Eₚ=0.1µJ"],"range":["#7b2a8c","#8b2fa3","#000000","#8c8c8c","#0c3350","#0a79c0","#43b5f5"]},
   "legend":{"orient":"none","legendX":726,"legendY":419,"title":null,"symbolType":"M-2.85,0H2.85","symbolSize":400,"symbolOffset":18.5,"labelOffset":29,"labelFontSize":24,"labelLimit":600,"rowPadding":5,"symbolStrokeWidth":4,
    "encode":{"symbols":{"update":{"strokeWidth":{"signal":"datum.value === 'Iso-énergie complémentaire' || datum.value === 'Limitations du laser' ? 3 : 5"},"strokeCap":{"signal":"datum.value === 'Rendements optimaux' ? 'round' : 'butt'"}}}}}},
  "strokeDash":{"field":"series","type":"nominal","scale":{"domain":["Seuil du NesCOPO","Iso-énergie complémentaire","Rendements optimaux","Limitations du laser","Iso-énergie pompe Eₚ= 40µJ","Iso-énergie pompe Eₚ= \u20073µJ","Iso-énergie pompe Eₚ=0.1µJ"],"range":[[1,0],[10,7],[8,12],[1,0],[1,0],[1,0],[1,0]]},
   "legend":{"orient":"none","legendX":726,"legendY":419,"title":null,"symbolType":"M-2.85,0H2.85","symbolSize":400,"symbolOffset":18.5,"labelOffset":29,"labelFontSize":24,"labelLimit":600,"rowPadding":5,"symbolStrokeWidth":4}}
 }
},
{
 "data":{"name":"lines"},
 "transform":[{"filter":{"field":"series","equal":"Iso-énergie complémentaire"}}],
 "mark":{"type":"line","clip":true,"strokeWidth":2.5,"interpolate":"catmull-rom"},
 "encoding":{
  "x":{"field":"t","type":"quantitative","axis":null},
  "y":{"field":"P","type":"quantitative","axis":null},
  "detail":{"field":"curve","type":"nominal"},
  "stroke":{"field":"series","type":"nominal","scale":{"domain":["Seuil du NesCOPO","Iso-énergie complémentaire","Rendements optimaux","Limitations du laser","Iso-énergie pompe Eₚ= 40µJ","Iso-énergie pompe Eₚ= \u20073µJ","Iso-énergie pompe Eₚ=0.1µJ"],"range":["#7b2a8c","#8b2fa3","#000000","#8c8c8c","#0c3350","#0a79c0","#43b5f5"]},"legend":{"title":null}},
  "strokeDash":{"field":"series","type":"nominal","scale":{"domain":["Seuil du NesCOPO","Iso-énergie complémentaire","Rendements optimaux","Limitations du laser","Iso-énergie pompe Eₚ= 40µJ","Iso-énergie pompe Eₚ= \u20073µJ","Iso-énergie pompe Eₚ=0.1µJ"],"range":[[1,0],[10,7],[8,12],[1,0],[1,0],[1,0],[1,0]]},"legend":{"title":null}}
 }
},
{
 "data":{"name":"lines"},
 "transform":[{"filter":{"field":"series","equal":"Rendements optimaux"}}],
 "mark":{"type":"line","clip":true,"strokeWidth":5,"strokeCap":"round","interpolate":"catmull-rom"},
 "encoding":{
  "x":{"field":"t","type":"quantitative","axis":null},
  "y":{"field":"P","type":"quantitative","axis":null},
  "detail":{"field":"curve","type":"nominal"},
  "stroke":{"field":"series","type":"nominal","scale":{"domain":["Seuil du NesCOPO","Iso-énergie complémentaire","Rendements optimaux","Limitations du laser","Iso-énergie pompe Eₚ= 40µJ","Iso-énergie pompe Eₚ= \u20073µJ","Iso-énergie pompe Eₚ=0.1µJ"],"range":["#7b2a8c","#8b2fa3","#000000","#8c8c8c","#0c3350","#0a79c0","#43b5f5"]},"legend":{"title":null}},
  "strokeDash":{"field":"series","type":"nominal","scale":{"domain":["Seuil du NesCOPO","Iso-énergie complémentaire","Rendements optimaux","Limitations du laser","Iso-énergie pompe Eₚ= 40µJ","Iso-énergie pompe Eₚ= \u20073µJ","Iso-énergie pompe Eₚ=0.1µJ"],"range":[[1,0],[10,7],[8,12],[1,0],[1,0],[1,0],[1,0]]},"legend":{"title":null}}
 }
},
{
 "data":{"name":"lines"},
 "transform":[{"filter":{"field":"series","oneOf":["Iso-énergie pompe Eₚ= 40µJ","Iso-énergie pompe Eₚ= \u20073µJ","Iso-énergie pompe Eₚ=0.1µJ"]}}],
 "mark":{"type":"line","clip":true,"strokeWidth":5},
 "encoding":{
  "x":{"field":"t","type":"quantitative","axis":null},
  "y":{"field":"P","type":"quantitative","axis":null},
  "detail":{"field":"curve","type":"nominal"},
  "stroke":{"field":"series","type":"nominal","scale":{"domain":["Seuil du NesCOPO","Iso-énergie complémentaire","Rendements optimaux","Limitations du laser","Iso-énergie pompe Eₚ= 40µJ","Iso-énergie pompe Eₚ= \u20073µJ","Iso-énergie pompe Eₚ=0.1µJ"],"range":["#7b2a8c","#8b2fa3","#000000","#8c8c8c","#0c3350","#0a79c0","#43b5f5"]},"legend":{"title":null}},
  "strokeDash":{"field":"series","type":"nominal","scale":{"domain":["Seuil du NesCOPO","Iso-énergie complémentaire","Rendements optimaux","Limitations du laser","Iso-énergie pompe Eₚ= 40µJ","Iso-énergie pompe Eₚ= \u20073µJ","Iso-énergie pompe Eₚ=0.1µJ"],"range":[[1,0],[10,7],[8,12],[1,0],[1,0],[1,0],[1,0]]},"legend":{"title":null}}
 }
},
{
 "data":{"name":"hatch"},
 "mark":{"type":"rule","clip":true,"color":"#8c8c8c","strokeWidth":2},
 "encoding":{
  "x":{"field":"t1","type":"quantitative","axis":null},
  "y":{"field":"p1","type":"quantitative","axis":null},
  "x2":{"field":"t2"},
  "y2":{"field":"p2"}
 }
},
{
 "data":{"name":"lines"},
 "transform":[{"filter":{"field":"series","equal":"Limitations du laser"}}],
 "mark":{"type":"line","clip":true,"strokeWidth":2.5},
 "encoding":{
  "x":{"field":"t","type":"quantitative","axis":null},
  "y":{"field":"P","type":"quantitative","axis":null},
  "detail":{"field":"curve","type":"nominal"},
  "stroke":{"field":"series","type":"nominal","scale":{"domain":["Seuil du NesCOPO","Iso-énergie complémentaire","Rendements optimaux","Limitations du laser","Iso-énergie pompe Eₚ= 40µJ","Iso-énergie pompe Eₚ= \u20073µJ","Iso-énergie pompe Eₚ=0.1µJ"],"range":["#7b2a8c","#8b2fa3","#000000","#8c8c8c","#0c3350","#0a79c0","#43b5f5"]},"legend":{"title":null}},
  "strokeDash":{"field":"series","type":"nominal","scale":{"domain":["Seuil du NesCOPO","Iso-énergie complémentaire","Rendements optimaux","Limitations du laser","Iso-énergie pompe Eₚ= 40µJ","Iso-énergie pompe Eₚ= \u20073µJ","Iso-énergie pompe Eₚ=0.1µJ"],"range":[[1,0],[10,7],[8,12],[1,0],[1,0],[1,0],[1,0]]},"legend":{"title":null}}
 }
}
]
}
